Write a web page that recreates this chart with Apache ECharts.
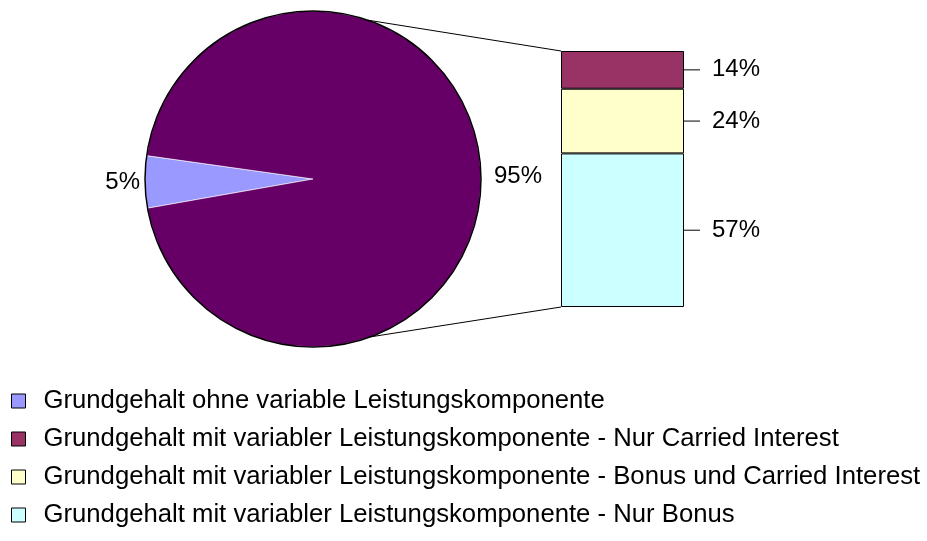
<!DOCTYPE html>
<html><head><meta charset="utf-8">
<script src="https://cdn.jsdelivr.net/npm/echarts@6/dist/echarts.min.js"></script>
<style>html,body{margin:0;padding:0;background:#fff}#c{width:927px;height:541px}</style>
</head><body><div id="c"></div>
<script>
// ---- data ----
const pieNames = ['Grundgehalt ohne variable Leistungskomponente', 'Grundgehalt mit variabler Leistungskomponente'];
const pieValues = [5, 95];
const barNames = [
  'Grundgehalt mit variabler Leistungskomponente - Nur Bonus',
  'Grundgehalt mit variabler Leistungskomponente - Bonus und Carried Interest',
  'Grundgehalt mit variabler Leistungskomponente - Nur Carried Interest'
];
const barValues = [57, 24, 14];
const barTotal = 95;
const legendOrder = [pieNames[0], barNames[2], barNames[1], barNames[0]];

// ---- styles ----
const FONT = "'Liberation Sans', Arial, sans-serif";
const pieColors = ['#9999FF', '#660066'];
const barColors = ['#CCFFFF', '#FFFFCC', '#993366'];
const pieLabelLen = [0, 8];

const chart = echarts.init(document.getElementById('c'), null, {renderer: 'canvas'});

const series = [{
  type: 'pie',
  center: [313, 179],
  radius: 168,
  startAngle: 190,
  clockwise: true,
  silent: true,
  animation: false,
  avoidLabelOverlap: false,
  itemStyle: {borderColor: '#ffffff', borderWidth: 0.6},
  label: {position: 'outside', color: '#000', fontSize: 24, fontFamily: FONT, formatter: '{c}%'},
  labelLine: {show: false, length2: 0},
  data: pieValues.map((v, i) => ({
    name: pieNames[i], value: v,
    itemStyle: {color: pieColors[i]},
    labelLine: {show: false, length: pieLabelLen[i], length2: 0}
  }))
}];

barValues.forEach((v, i) => {
  series.push({
    type: 'bar',
    name: barNames[i],
    stack: 'split',
    barWidth: '100%',
    silent: true,
    animation: false,
    itemStyle: {color: barColors[i], borderColor: '#000', borderWidth: 1},
    label: {
      show: true, position: 'right', distance: 0,
      formatter: p => '{l|}{t|' + p.value + '%}',
      rich: {
        l: {width: 16, height: 1, backgroundColor: '#000'},
        t: {fontSize: 24, fontFamily: FONT, color: '#000', padding: [0, 0, 0, 12]}
      }
    },
    data: [v]
  });
});

const option = {
  backgroundColor: '#fff',
  animation: false,
  grid: {left: 561, top: 51, width: 123, height: 256},
  xAxis: {type: 'category', data: [''], show: false},
  yAxis: {type: 'value', min: 0, max: barTotal, show: false},
  legend: {
    orient: 'vertical', left: 6, top: 383,
    itemWidth: 14, itemHeight: 14, itemGap: 12,
    icon: 'rect',
    selectedMode: false,
    itemStyle: {borderColor: '#000', borderWidth: 1},
    textStyle: {fontSize: 25.7, fontFamily: FONT, color: '#000', padding: [0, 0, 0, 13]},
    data: legendOrder
  },
  series: series
};
chart.setOption(option);

// connector lines + pie outline, derived from the rendered layout
const model = chart.getModel();
const pl = model.getSeriesByIndex(0).getData().getItemLayout(0);
const bBottom = model.getSeriesByIndex(1).getData().getItemLayout(0);
const bTop = model.getSeriesByIndex(3).getData().getItemLayout(0);
const barLeft = Math.min(bBottom.x, bBottom.x + bBottom.width);
const barBottomY = Math.max(bBottom.y, bBottom.y + bBottom.height);
const barTopY = Math.min(bTop.y, bTop.y + bTop.height);
const aTop = 71 * Math.PI / 180, aBot = -70 * Math.PI / 180;
chart.setOption({
  graphic: [
    {type: 'circle', silent: true, z: 10, shape: {cx: pl.cx, cy: pl.cy, r: pl.r},
     style: {fill: null, stroke: '#000', lineWidth: 1.5}},
    {type: 'line', silent: true, z: 10,
     shape: {x1: pl.cx + pl.r * Math.cos(aTop), y1: pl.cy - pl.r * Math.sin(aTop), x2: barLeft, y2: barTopY},
     style: {stroke: '#000', lineWidth: 1}},
    {type: 'line', silent: true, z: 10,
     shape: {x1: pl.cx + pl.r * Math.cos(aBot), y1: pl.cy - pl.r * Math.sin(aBot), x2: barLeft, y2: barBottomY},
     style: {stroke: '#000', lineWidth: 1}}
  ]
});
</script>
</body></html>
